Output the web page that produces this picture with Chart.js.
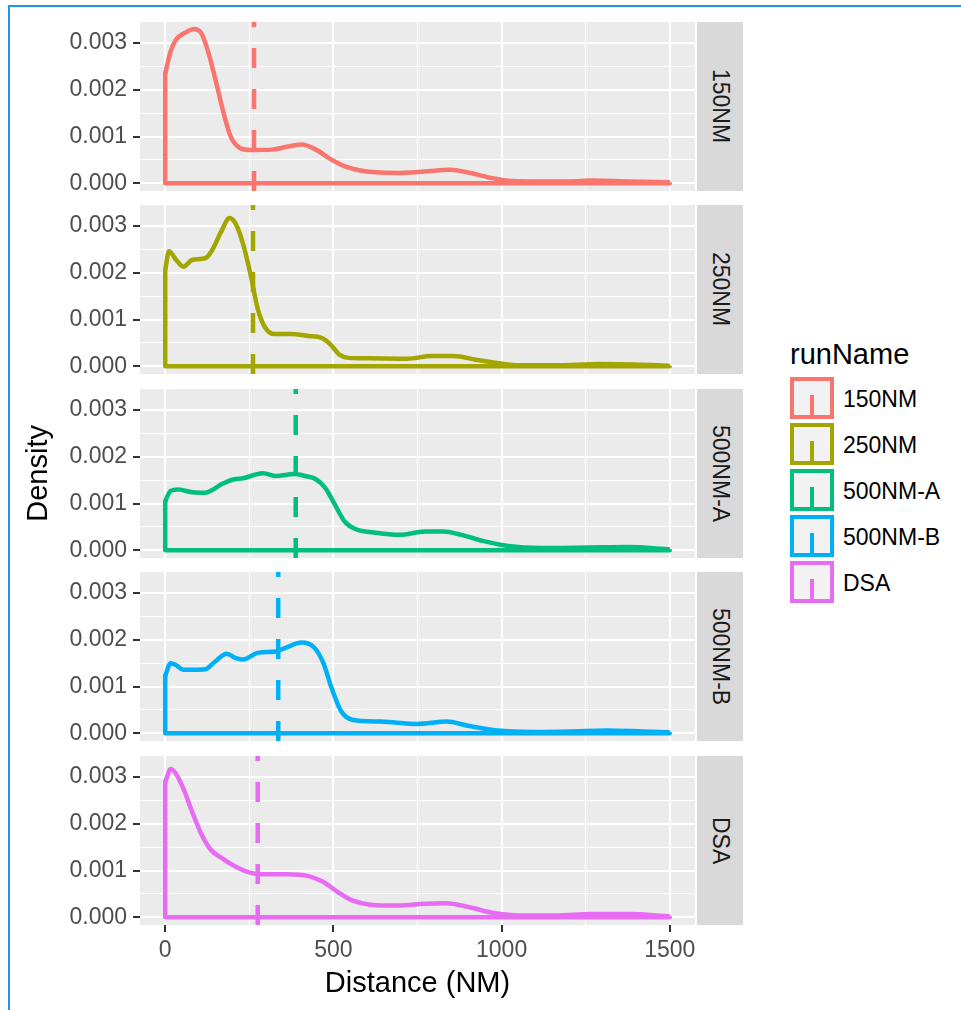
<!DOCTYPE html>
<html lang="en">
<head>
<meta charset="UTF-8">
<title>runName density facets</title>
<script src="https://cdn.jsdelivr.net/npm/chart.js@4.4.1/dist/chart.umd.min.js"></script>
<style>
    html, body { margin: 0; padding: 0; background: #fff; }
    body { width: 961px; height: 1010px; position: relative; overflow: hidden;
           font-family: "Liberation Sans", Arial, sans-serif; }
    .frame-top { position: absolute; left: 8px; top: 5px; right: 0; height: 2px; background: #1E98E4; }
    .frame-left { position: absolute; left: 8px; top: 5px; width: 2px; bottom: 0; background: #1E98E4; }
    .panel { position: absolute; left: 0; width: 695px; }
    .strip { position: absolute; left: 697px; width: 46px; background: #D9D9D9;
             display: flex; align-items: center; justify-content: center; }
    .strip span { writing-mode: vertical-rl; font-size: 23px; color: #1A1A1A; line-height: 23px; }
    .ytitle { position: absolute; left: 0; top: 22px; width: 74px; height: 903px;
              display: flex; align-items: center; justify-content: center; }
    .ytitle span { writing-mode: vertical-rl; transform: rotate(180deg); font-size: 29px; line-height: 29px; color: #000; }
    .xtitle { position: absolute; left: 140px; width: 555px; top: 968px; text-align: center;
              font-size: 29px; line-height: 29px; color: #000; }
    .legend-title { position: absolute; left: 790px; top: 340px; font-size: 29px; line-height: 29px; color: #000; }
    .key { position: absolute; left: 790px; width: 36px; height: 34px; border: 4px solid; background: #F2F2F2; }
    .key i { position: absolute; left: 16px; bottom: 0; width: 4px; height: 20px; }
    .key-label { position: absolute; left: 843px; font-size: 23px; line-height: 23px; color: #000; }
</style>
</head>
<body>
<div class="frame-top"></div>
<div class="frame-left"></div>
<div id="root"></div>
<div class="ytitle"><span>Density</span></div>
<div class="xtitle">Distance (NM)</div>
<div class="legend-title">runName</div>

<script>
    // ---- data ----
    const runNames = ['150NM', '250NM', '500NM-A', '500NM-B', 'DSA'];

    // density curves, [distance, density]
    const dens150 = [[0,0.00235],[16,0.00282],[32,0.00307],[59,0.00322],[86,0.00330],[108,0.00320],[129,0.00278],
        [151,0.00217],[173,0.00152],[194,0.00101],[221,0.00076],[254,0.00071],[318,0.00072],[361,0.00078],[405,0.00083],
        [448,0.00072],[491,0.00052],[534,0.00036],[599,0.00025],[685,0.00022],[771,0.00025],[847,0.00029],[901,0.00023],
        [966,0.00012],[1030,0.00005],[1117,0.00004],[1203,0.00004],[1268,0.00006],[1376,0.00004],[1500,0.00002]];
    const dens250 = [[0,0.00206],[11,0.00246],[32,0.00228],[54,0.00213],[81,0.00228],[119,0.00231],[140,0.00249],
        [167,0.00289],[191,0.00317],[210,0.00304],[232,0.00260],[254,0.00195],[275,0.00123],[297,0.00083],[324,0.00069],
        [372,0.00069],[426,0.00065],[464,0.00061],[491,0.00047],[518,0.00025],[545,0.00018],[610,0.00017],[718,0.00016],
        [793,0.00022],[858,0.00022],[923,0.00014],[987,0.00007],[1052,0.00002],[1160,0.00002],[1290,0.00005],
        [1397,0.00004],[1500,0.00001]];
    const dens500A = [[0,0.00105],[16,0.00127],[38,0.00130],[81,0.00124],[119,0.00123],[140,0.00129],[167,0.00141],
        [205,0.00152],[232,0.00154],[264,0.00161],[291,0.00165],[329,0.00159],[383,0.00163],[415,0.00159],[448,0.00152],
        [475,0.00134],[502,0.00101],[534,0.00061],[567,0.00045],[620,0.00038],[696,0.00033],[772,0.00040],[825,0.00040],
        [880,0.00033],[944,0.00020],[1020,0.00009],[1117,0.00005],[1257,0.00006],[1376,0.00007],[1500,0.00002]];
    const dens500B = [[0,0.00123],[16,0.00150],[32,0.00146],[54,0.00136],[86,0.00136],[119,0.00137],[146,0.00152],
        [183,0.00170],[210,0.00161],[232,0.00158],[275,0.00172],[329,0.00175],[361,0.00184],[405,0.00194],[442,0.00184],
        [469,0.00152],[496,0.00094],[523,0.00047],[556,0.00029],[642,0.00025],[750,0.00020],[836,0.00025],[901,0.00016],
        [987,0.00006],[1095,0.00003],[1203,0.00004],[1311,0.00006],[1419,0.00004],[1500,0.00002]];
    const densDSA = [[0,0.00289],[16,0.00317],[32,0.00307],[54,0.00275],[81,0.00224],[108,0.00177],[135,0.00145],
        [167,0.00127],[210,0.00108],[254,0.00095],[297,0.00092],[361,0.00092],[426,0.00088],[469,0.00076],[513,0.00054],
        [556,0.00036],[610,0.00027],[696,0.00025],[772,0.00029],[836,0.00030],[901,0.00022],[977,0.00009],[1052,0.00004],
        [1160,0.00004],[1268,0.00007],[1376,0.00007],[1500,0.00002]];
    const densities = [dens150, dens250, dens500A, dens500B, densDSA];

    // mean distance per run (dashed lines)
    const meanDist = [264, 261, 388, 336, 275];

    // axes
    const xTickVals = [0, 250, 500, 750, 1000, 1250, 1500];
    const xTickLabels = ['0', '', '500', '', '1000', '', '1500'];
    const yTickVals = [0, 0.0005, 0.001, 0.0015, 0.002, 0.0025, 0.003];
    const yTickLabels = ['0.000', '', '0.001', '', '0.002', '', '0.003'];
    const X_MIN = -75, X_MAX = 1575;
    const Y_MIN = -0.000165, Y_MAX = 0.00345;

    // ---- styling / layout ----
    const runColors = ['#F8766D', '#A3A500', '#00BF7D', '#00B0F6', '#E76BF3'];
    const panelTops = [22, 205, 389, 572, 756];
    const PANEL_H = 169;
    const PAD = 12;
    const X_AXIS_H = 50;
    const LINE_W = 4.5;

    Chart.defaults.font.family = '"Liberation Sans", Arial, sans-serif';

    const panelBg = {
        id: 'panelBg',
        beforeDraw(chart) {
            const { ctx, chartArea: a } = chart;
            ctx.save();
            ctx.fillStyle = '#EBEBEB';
            ctx.fillRect(a.left, a.top, a.right - a.left, a.bottom - a.top);
            ctx.restore();
        }
    };

    const root = document.getElementById('root');

    runNames.forEach((name, i) => {
        const last = i === runNames.length - 1;
        const col = runColors[i];
        const pts = densities[i];

        const box = document.createElement('div');
        box.className = 'panel';
        box.style.top = (panelTops[i] - PAD) + 'px';
        box.style.height = (PAD + PANEL_H + (last ? X_AXIS_H : PAD)) + 'px';
        const cv = document.createElement('canvas');
        box.appendChild(cv);
        root.appendChild(box);

        const strip = document.createElement('div');
        strip.className = 'strip';
        strip.style.top = panelTops[i] + 'px';
        strip.style.height = PANEL_H + 'px';
        strip.innerHTML = '<span>' + name + '</span>';
        root.appendChild(strip);

        const first = pts[0], end = pts[pts.length - 1];

        new Chart(cv, {
            type: 'line',
            data: {
                datasets: [
                    {   // outline: left edge and baseline of the density polygon
                        data: [{ x: first[0], y: first[1] }, { x: first[0], y: 0 }, { x: end[0], y: 0 }, { x: end[0], y: end[1] }],
                        borderColor: col, borderWidth: LINE_W, pointRadius: 0, tension: 0,
                        borderJoinStyle: 'round'
                    },
                    {
                        data: pts.map(p => ({ x: p[0], y: p[1] })),
                        borderColor: col, borderWidth: LINE_W, pointRadius: 0,
                        cubicInterpolationMode: 'monotone', borderJoinStyle: 'round'
                    },
                    {
                        data: [{ x: meanDist[i], y: Y_MIN }, { x: meanDist[i], y: Y_MAX }],
                        borderColor: col, borderWidth: LINE_W, pointRadius: 0, tension: 0,
                        borderDash: [20, 21]
                    }
                ]
            },
            options: {
                responsive: true,
                maintainAspectRatio: false,
                animation: false,
                events: [],
                layout: { padding: { left: 0, right: 0, top: PAD, bottom: last ? 0 : PAD } },
                plugins: { legend: { display: false }, tooltip: { enabled: false } },
                scales: {
                    x: {
                        type: 'linear', min: X_MIN, max: X_MAX, bounds: 'data',
                        afterBuildTicks: s => { s.ticks = xTickVals.map(v => ({ value: v })); },
                        afterFit: s => {
                            s.height = last ? X_AXIS_H : 0;
                            s.paddingLeft = 0; s.paddingRight = 0;
                        },
                        border: { display: false },
                        grid: {
                            color: '#FFFFFF',
                            lineWidth: c => (xTickLabels[c.index] ? 2 : 1),
                            drawTicks: last,
                            tickLength: 7,
                            tickWidth: 2,
                            tickColor: c => (xTickLabels[c.index] ? '#333333' : 'rgba(0,0,0,0)')
                        },
                        ticks: {
                            display: last, autoSkip: false, maxRotation: 0, padding: 5,
                            color: '#4D4D4D', font: { size: 23 },
                            callback: (v, idx) => xTickLabels[idx]
                        }
                    },
                    y: {
                        type: 'linear', min: Y_MIN, max: Y_MAX, bounds: 'data',
                        afterBuildTicks: s => { s.ticks = yTickVals.map(v => ({ value: v })); },
                        afterFit: s => {
                            s.width = 140;
                            s.paddingTop = 0; s.paddingBottom = 0;
                        },
                        border: { display: false },
                        grid: {
                            color: '#FFFFFF',
                            lineWidth: c => (yTickLabels[c.index] ? 2 : 1),
                            tickLength: 7,
                            tickWidth: 2,
                            tickColor: c => (yTickLabels[c.index] ? '#333333' : 'rgba(0,0,0,0)')
                        },
                        ticks: {
                            autoSkip: false, padding: 6,
                            color: '#4D4D4D', font: { size: 23 },
                            callback: (v, idx) => yTickLabels[idx]
                        }
                    }
                }
            },
            plugins: [panelBg]
        });

        // legend entry
        const key = document.createElement('div');
        key.className = 'key';
        key.style.top = (377 + i * 46) + 'px';
        key.style.borderColor = col;
        key.innerHTML = '<i style="background:' + col + '"></i>';
        root.appendChild(key);
        const lab = document.createElement('div');
        lab.className = 'key-label';
        lab.style.top = (388 + i * 46) + 'px';
        lab.textContent = name;
        root.appendChild(lab);
    });
</script>
</body>
</html>
